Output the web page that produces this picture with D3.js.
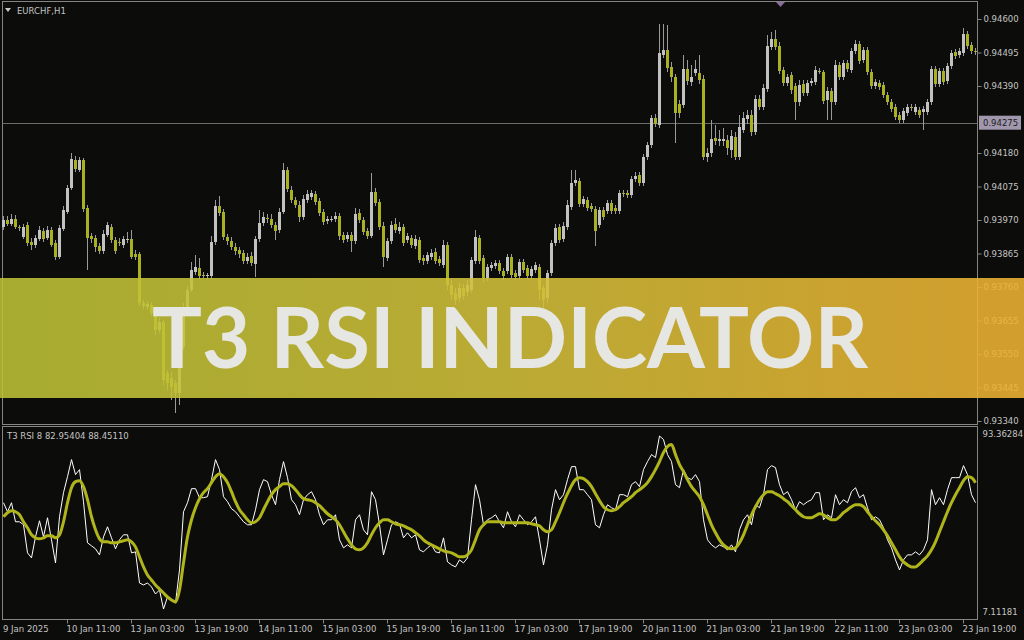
<!DOCTYPE html>
<html><head><meta charset="utf-8">
<script src="https://cdn.jsdelivr.net/npm/d3@7"></script>
<style>html,body{margin:0;padding:0;background:#0c0c0a;}svg{display:block}</style>
</head><body>
<svg id="c" width="1024" height="640"></svg>
<script>
const symbolLabel = "EURCHF,H1";
const rsiLabel = "T3 RSI 8 82.95404 88.45110";
const bannerText = "T3 RSI INDICATOR";
const timeLabels = ["9 Jan 2025","10 Jan 11:00","13 Jan 03:00","13 Jan 19:00","14 Jan 11:00","15 Jan 03:00","15 Jan 19:00","16 Jan 11:00","17 Jan 03:00","17 Jan 19:00","20 Jan 11:00","21 Jan 03:00","21 Jan 19:00","22 Jan 11:00","23 Jan 03:00","23 Jan 19:00"];
const timeLabelBars = [0,16,32,48,64,80,96,112,128,144,160,176,192,208,224,240];
const priceTicks = [0.94600,0.94495,0.94390,0.94180,0.94075,0.93970,0.93865,0.93760,0.93655,0.93550,0.93445,0.93340];
const markedPrice = 0.94275;
const rsiMax = 93.36284, rsiMin = 7.11181;
const POINT = 1e-5;
// OHLC in points (1e-5)
const openPts = [93948,93970,93957,93973,93948,93917,93954,93901,93892,93911,93936,93914,93939,93898,93854,93942,93995,94070,94158,94127,94158,94008,93920,93914,93889,93873,93923,93948,93907,93901,93892,93907,93911,93864,93864,93710,93697,93704,93682,93625,93650,93491,93475,93459,93428,93572,93697,93751,93807,93820,93798,93795,93795,93901,94014,93995,93917,93904,93885,93876,93867,93842,93857,93832,93911,93961,93976,93973,93954,93939,93995,94127,94064,94033,94017,93979,94033,94042,94052,94030,93995,93967,93970,93973,93983,93923,93911,93923,93904,93992,93970,93936,93920,94058,94026,93951,93851,93904,93957,93936,93948,93907,93914,93889,93907,93851,93842,93854,93870,93848,93829,93892,93766,93741,93726,93757,93744,93751,93842,93914,93851,93788,93820,93826,93835,93810,93810,93854,93804,93795,93838,93820,93795,93813,93823,93757,93726,93804,93898,93948,93911,93948,94011,94086,94092,94020,94033,94014,94005,93954,94001,93998,94023,94008,93998,94055,94055,94048,94099,94111,94086,94168,94205,94290,94268,94487,94503,94450,94418,94334,94330,94443,94403,94431,94431,94412,94168,94180,94227,94218,94218,94221,94189,94230,94168,94252,94287,94299,94246,94349,94324,94381,94512,94537,94515,94440,94399,94424,94390,94340,94396,94368,94399,94403,94437,94434,94346,94374,94340,94456,94418,94462,94440,94500,94522,94472,94503,94434,94390,94399,94393,94362,94340,94324,94299,94283,94305,94324,94309,94315,94309,94309,94340,94443,94396,94437,94406,94453,94497,94487,94493,94553,94519,94500];
const highPts = [93983,93983,93989,93986,93954,93957,93964,93914,93923,93951,93945,93951,93948,93907,93954,94014,94080,94180,94171,94168,94164,94017,93929,93923,93898,93939,93964,93957,93917,93914,93920,93932,93939,93876,93870,93719,93716,93713,93697,93663,93657,93500,93494,93469,93578,93710,93763,93838,93860,93851,93807,93804,93920,94033,94045,94005,93926,93917,93898,93885,93876,93867,93870,93920,94001,93995,93989,93989,93964,94008,94149,94136,94077,94042,94030,94048,94064,94064,94061,94039,94005,93983,93983,93995,93992,93932,93932,93932,94008,94005,93979,93945,94117,94070,94036,93964,93914,93967,93976,93964,93957,93929,93923,93923,93917,93860,93870,93879,93882,93857,93907,93901,93782,93757,93773,93769,93782,93854,93939,93923,93860,93832,93838,93845,93845,93820,93864,93864,93813,93848,93848,93829,93826,93838,93832,93766,93813,93907,93957,93957,93964,94033,94127,94127,94102,94045,94042,94023,94014,94011,94011,94033,94033,94017,94064,94064,94064,94108,94120,94120,94177,94215,94299,94302,94584,94584,94581,94465,94428,94346,94487,94472,94456,94472,94487,94424,94196,94283,94268,94252,94258,94236,94252,94246,94299,94309,94315,94315,94362,94362,94396,94550,94559,94566,94528,94450,94428,94434,94399,94409,94409,94409,94415,94453,94446,94440,94387,94384,94472,94465,94472,94472,94509,94534,94531,94512,94512,94443,94412,94409,94403,94371,94349,94334,94309,94321,94334,94334,94334,94324,94327,94349,94453,94453,94446,94446,94462,94503,94506,94509,94572,94562,94528,94509];
const lowPts = [93939,93951,93951,93942,93936,93911,93889,93876,93882,93904,93901,93907,93885,93845,93848,93936,93989,94064,94120,94120,93995,93813,93898,93870,93864,93864,93917,93898,93864,93889,93882,93898,93848,93845,93701,93691,93688,93669,93610,93616,93453,93437,93406,93365,93390,93563,93688,93744,93798,93785,93788,93785,93785,93892,93983,93907,93892,93876,93860,93851,93832,93832,93826,93791,93901,93951,93961,93945,93907,93929,93989,94058,94023,94008,93964,93970,94023,94033,94017,93983,93954,93957,93964,93964,93907,93898,93901,93870,93895,93961,93923,93911,93914,94014,93939,93823,93842,93895,93929,93926,93889,93898,93882,93879,93835,93829,93832,93845,93832,93826,93820,93751,93719,93704,93713,93719,93732,93741,93832,93832,93776,93779,93810,93817,93801,93782,93801,93788,93782,93785,93804,93785,93785,93804,93719,93688,93710,93795,93889,93898,93901,93939,94001,94077,94011,94011,93998,93995,93889,93945,93970,93989,93989,93989,93989,94042,94039,94039,94089,94077,94077,94158,94196,94262,94258,94478,94434,94403,94211,94290,94321,94393,94390,94421,94396,94158,94152,94168,94205,94202,94202,94174,94164,94158,94158,94243,94271,94233,94236,94315,94315,94371,94503,94503,94428,94390,94390,94365,94283,94327,94359,94359,94390,94393,94428,94334,94283,94283,94330,94409,94409,94434,94431,94490,94459,94462,94425,94381,94381,94377,94352,94330,94309,94283,94274,94274,94296,94312,94299,94290,94252,94299,94330,94387,94387,94393,94396,94443,94475,94478,94484,94506,94490,94487];
const closePts = [93970,93957,93973,93948,93945,93948,93898,93892,93914,93939,93911,93939,93892,93854,93945,94001,94070,94161,94130,94158,94005,93914,93911,93885,93873,93926,93954,93907,93873,93898,93911,93911,93854,93854,93710,93701,93707,93679,93625,93650,93469,93459,93447,93428,93572,93697,93751,93813,93823,93795,93795,93798,93901,94014,93992,93917,93904,93885,93873,93864,93842,93854,93835,93911,93961,93979,93973,93954,93936,93995,94127,94067,94033,94017,93979,94036,94052,94055,94026,93992,93964,93973,93973,93983,93920,93907,93923,93904,93989,93970,93932,93920,94058,94023,93948,93854,93904,93954,93939,93948,93898,93920,93892,93911,93845,93842,93860,93867,93842,93835,93892,93766,93735,93719,93757,93732,93766,93845,93917,93842,93788,93823,93829,93835,93810,93795,93854,93798,93791,93838,93813,93795,93817,93829,93751,93719,93804,93898,93945,93907,93951,94017,94086,94095,94020,94036,94008,94005,93936,94001,93979,94023,93998,93998,94055,94052,94048,94099,94108,94086,94168,94205,94290,94271,94493,94503,94446,94418,94305,94305,94443,94406,94418,94443,94409,94168,94180,94224,94218,94224,94224,94196,94233,94168,94262,94290,94299,94246,94349,94324,94384,94515,94537,94512,94437,94399,94418,94377,94340,94393,94368,94399,94406,94440,94434,94343,94374,94340,94456,94418,94462,94443,94500,94522,94468,94503,94434,94390,94403,94387,94362,94340,94318,94293,94283,94312,94324,94321,94324,94299,94318,94340,94443,94396,94437,94403,94453,94493,94484,94500,94553,94515,94500,94497];
const rsiValues = [60.1,55.6,60.1,50.6,50.6,49.1,35.1,32.6,43.1,51.1,43.1,52.6,41.6,30.1,53.1,65.1,73.1,81.6,74.1,76.6,60.6,40.1,38.6,37.1,34.1,43.1,48.1,42.6,37.1,41.6,44.1,44.1,35.1,35.6,20.1,19.1,20.1,18.1,14.6,16.6,7.11,13.1,11.6,10.1,26.6,55.6,60.1,67.1,67.1,62.6,62.6,63.1,71.6,81.6,76.6,63.1,60.6,57.1,55.6,53.1,50.6,49.1,
49.1,56.6,66.6,71.6,70.6,64.1,59.1,71.6,80.6,72.6,61.6,59.1,54.1,61.6,64.1,65.6,61.6,54.1,49.1,51.6,51.6,54.1,41.6,37.6,39.1,37.6,51.6,54.1,46.6,44.1,65.6,61.6,49.1,34.1,41.6,49.1,50.6,49.6,42.6,45.1,42.6,44.1,36.6,35.6,37.6,39.1,35.6,35.1,42.6,30.6,29.1,28.1,31.6,30.1,32.6,51.6,69.1,61.6,49.1,51.6,52.6,54.1,50.6,47.6,55.6,50.6,48.1,54.1,51.6,49.1,50.6,53.1,41.6,29.1,39.1,56.6,66.6,61.6,64.1,71.6,78.1,78.1,66.6,66.6,64.1,61.6,49.1,47.6,54.1,59.1,57.6,56.6,64.1,64.1,63.1,69.1,70.6,68.1,76.6,80.6,84.1,82.6,93.36,91.6,84.1,80.6,69.1,67.6,76.6,72.6,71.6,74.1,70.6,51.6,41.6,39.1,37.6,39.1,38.1,36.6,39.1,35.6,46.6,51.6,54.1,49.1,59.1,57.6,64.1,76.6,78.6,77.6,69.1,64.1,65.6,61.6,56.6,60.6,59.1,60.6,61.6,65.1,65.1,51.6,54.1,52.6,64.1,59.1,61.6,60.1,65.6,67.6,62.6,64.1,57.6,51.6,53.1,51.6,47.6,41.6,37.6,31.6,26.6,31.6,34.1,34.1,35.6,34.1,36.6,41.6,66.6,59.1,62.6,59.1,66.6,72.6,72.6,72.6,78.6,74.1,64.1,60.1];
const t3Values = [53.1,55.1,56.1,55.6,54.1,50.6,47.6,44.1,42.6,42.1,42.6,43.6,43.6,42.6,44.1,50.6,60.1,67.6,70.6,71.1,68.1,61.6,53.1,46.6,42.1,40.6,40.6,40.1,40.1,40.6,41.1,41.6,40.6,38.1,33.1,28.1,24.1,21.6,19.1,17.1,15.1,13.1,11.6,10.6,16.6,30.1,43.1,51.6,57.6,62.1,65.1,67.1,70.1,73.1,74.6,73.1,70.1,65.6,60.6,56.6,54.1,51.6,
50.1,50.6,52.6,56.6,60.6,64.1,66.6,68.1,69.6,69.6,68.6,66.6,64.1,62.1,61.6,61.1,60.1,58.6,56.6,54.6,53.1,51.6,49.1,45.6,42.1,39.1,37.1,36.6,37.6,40.1,44.1,47.6,50.1,51.6,51.6,50.6,49.6,49.1,48.6,47.6,46.6,45.1,43.6,41.6,40.1,39.1,38.1,37.1,36.1,35.6,35.1,34.1,33.1,33.1,34.1,36.6,41.6,46.6,49.1,50.6,50.6,50.6,50.6,50.1,50.1,50.1,50.1,50.1,50.1,50.1,49.6,49.1,48.6,46.6,45.6,46.6,50.6,55.1,60.1,64.6,68.6,71.6,72.6,72.1,70.6,68.1,64.6,61.1,58.1,56.6,56.1,56.6,58.1,60.1,61.6,63.1,65.1,66.6,68.1,70.1,73.1,76.6,80.6,85.1,88.1,89.1,84.1,79.1,75.6,71.6,68.1,65.6,63.1,59.1,54.1,49.1,45.1,41.6,39.1,37.6,37.1,37.6,40.1,44.1,49.1,54.1,58.1,61.6,64.1,65.6,65.6,64.6,63.6,62.1,60.6,58.6,56.6,54.6,53.1,52.6,52.6,53.6,54.6,54.1,52.6,51.6,51.6,53.1,55.1,56.6,58.1,59.1,59.1,58.1,55.6,53.1,51.1,49.1,46.6,43.6,40.1,36.6,33.1,30.6,29.1,28.1,28.1,29.6,31.6,33.6,36.6,40.6,45.6,50.6,55.6,60.1,64.1,67.6,71.1,73.1,72.6,70.1];

const candles = openPts.map((o,i)=>({i, o:o*POINT, h:highPts[i]*POINT, l:lowPts[i]*POINT, c:closePts[i]*POINT}));

const svg = d3.select("#c");
const W=1024,H=640;
const left=2.5, right=977.5, mainTop=1.5, mainBot=424.5, rsiTop=426.5, rsiBot=619.5;
const axisFont = "'DejaVu Sans', sans-serif";
const txtCol = "#c4c4c4";
const upCol = "#c2c2c2", dnCol = "#a9b123", wickCol = "#9a9a9a";

svg.append("rect").attr("width",W).attr("height",H).attr("fill","#0c0c0a");

const x = d3.scaleLinear().domain([0, candles.length-1]).range([3.5, 3.5+4*(candles.length-1)]);
const y = d3.scaleLinear().domain([0.93340,0.94600]).range([421,19]);
const yr = d3.scaleLinear().domain([rsiMin, rsiMax]).range([609,436]);

// panel borders
const g0 = svg.append("g").attr("fill","none").attr("stroke","#858585").attr("stroke-width",1);
g0.append("rect").attr("x",left).attr("y",mainTop).attr("width",right-left).attr("height",mainBot-mainTop);
g0.append("rect").attr("x",left).attr("y",rsiTop).attr("width",right-left).attr("height",rsiBot-rsiTop);

// marked price line
svg.append("line").attr("x1",left).attr("x2",right).attr("y1",Math.round(y(markedPrice))+0.5).attr("y2",Math.round(y(markedPrice))+0.5)
  .attr("stroke","#6c6c6c").attr("stroke-width",1);

// candles
const gc = svg.append("g");
candles.forEach(d=>{
  const cx = Math.round(x(d.i)-0.5)+0.5;
  const up = d.c > d.o, flat = Math.abs(d.c-d.o) < 1.5*POINT;
  const col = up ? upCol : dnCol;
  gc.append("line").attr("x1",cx).attr("x2",cx).attr("y1",Math.round(y(d.h))).attr("y2",Math.round(y(d.l)))
    .attr("stroke",wickCol).attr("stroke-width",1);
  const yt = Math.round(y(Math.max(d.o,d.c))), yb = Math.round(y(Math.min(d.o,d.c)));
  gc.append("rect").attr("x",cx-1.5).attr("y",yt).attr("width",3).attr("height",Math.max(1,yb-yt))
    .attr("fill", flat ? "#d0d0d0" : col);
});

// price axis
const pa = svg.append("g").attr("transform",`translate(${right},0)`)
  .call(d3.axisRight(y).tickValues(priceTicks).tickFormat(d3.format(".5f")).tickSize(4).tickPadding(2));
pa.select(".domain").remove();
pa.selectAll("line").attr("stroke","#858585");
pa.selectAll("text").attr("fill",txtCol).style("font-family",axisFont).style("font-size","8.5px");

// marked price label
const my = y(markedPrice);
svg.append("rect").attr("x",979).attr("y",my-7).attr("width",42).attr("height",14).attr("fill","#a198ae");
svg.append("text").attr("x",983).attr("y",my+3.5).text(d3.format(".5f")(markedPrice))
  .attr("fill","#1c1a22").style("font-family",axisFont).style("font-size","8.5px");

// symbol label
svg.append("path").attr("d","M5,8 L11,8 L8,12 Z").attr("fill","#c8c8c8");
svg.append("text").attr("x",17).attr("y",14).text(symbolLabel).attr("fill",txtCol).style("font-family",axisFont).style("font-size","8.5px");

// small markers
svg.append("path").attr("d","M776,2 L785,2 L780.5,7 Z").attr("fill","#8a6c98");

// RSI panel
const lineW = d3.line().x((d,i)=>x(i)).y(d=>yr(d));
svg.append("path").datum(rsiValues).attr("d",lineW).attr("fill","none").attr("stroke","#ffffff").attr("stroke-width",1);
svg.append("path").datum(t3Values).attr("d",lineW.curve(d3.curveMonotoneX)).attr("fill","none").attr("stroke","#b0b51c").attr("stroke-width",3).attr("stroke-linejoin","round");
svg.append("text").attr("x",7).attr("y",439).text(rsiLabel).attr("fill",txtCol).style("font-family",axisFont).style("font-size","8.5px");
const ra = svg.append("g").attr("transform",`translate(${right},0)`);
ra.append("text").attr("x",5).attr("y",437).text(rsiMax.toFixed(5)).attr("fill",txtCol).style("font-family",axisFont).style("font-size","8.5px");
ra.append("text").attr("x",5).attr("y",615).text(rsiMin.toFixed(5)).attr("fill",txtCol).style("font-family",axisFont).style("font-size","8.5px");

// time axis
const ta = svg.append("g");
timeLabelBars.forEach((b,k)=>{
  const tx = Math.round(x(b)-0.5)+0.5;
  if(k>0) ta.append("line").attr("x1",tx).attr("x2",tx).attr("y1",rsiBot).attr("y2",rsiBot+4).attr("stroke","#858585");
  ta.append("text").attr("x", k===0 ? 3 : tx-1).attr("y",632).text(timeLabels[k])
    .attr("fill",txtCol).style("font-family",axisFont).style("font-size","8.5px");
});

// banner
const defs = svg.append("defs");
const grad = defs.append("linearGradient").attr("id","bg").attr("x1","0").attr("x2","1").attr("y1","0").attr("y2","0");
grad.append("stop").attr("offset","0%").attr("stop-color","#bcc236");
grad.append("stop").attr("offset","50%").attr("stop-color","#d2c03a");
grad.append("stop").attr("offset","100%").attr("stop-color","#eeb232");
svg.append("rect").attr("x",0).attr("y",278).attr("width",W).attr("height",120).attr("fill","url(#bg)").attr("opacity",0.88);
svg.append("text").attr("x",510).attr("y",368).attr("text-anchor","middle").text(bannerText)
  .attr("fill","#e6e6e2").style("font-family","Lato, 'Open Sans', sans-serif").style("font-weight","700").style("font-size","85px")
  .attr("textLength",716).attr("lengthAdjust","spacingAndGlyphs");
</script>
</body></html>
